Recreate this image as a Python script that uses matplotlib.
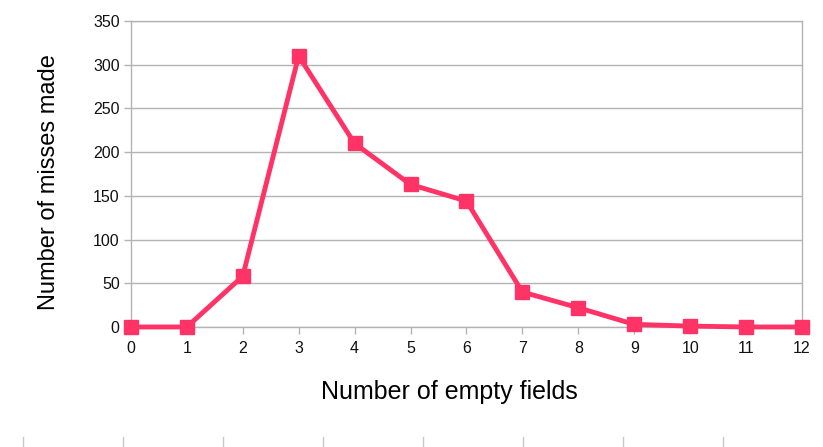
import matplotlib
matplotlib.use('Agg')
import matplotlib.pyplot as plt
from matplotlib.lines import Line2D

plt.rcParams['font.family'] = ['Liberation Sans', 'DejaVu Sans']

# data
empty_fields = [0, 1, 2, 3, 4, 5, 6, 7, 8, 9, 10, 11, 12]
misses = [0, 0, 58, 310, 210, 163, 144, 40, 22, 3, 1, 0, 0]
yticks = [0, 50, 100, 150, 200, 250, 300, 350]

fig = plt.figure(figsize=(8.23, 4.47), dpi=100)
ax = fig.add_axes([0.159, 0.2685, 0.8155, 0.6845])

grey = '#b3b3b3'
ax.plot(empty_fields, misses, color='#ff3366', lw=3.5, marker='s', ms=9.5,
        clip_on=False, zorder=3)

ax.set_xlim(0, 12)
ax.set_ylim(0, 350)
ax.set_xticks(empty_fields)
ax.set_yticks(yticks)
ax.yaxis.grid(True, color=grey, lw=1)
ax.set_axisbelow(True)
for s in ['left', 'right', 'bottom', 'top']:
    ax.spines[s].set_color(grey)
    ax.spines[s].set_linewidth(1)
ax.tick_params(axis='both', color=grey, length=5, width=1, labelsize=11.5,
               labelcolor='#111111')
ax.tick_params(axis='x', pad=5)
ax.tick_params(axis='y', pad=3)

ax.set_xlabel('Number of empty fields', fontsize=18)
ax.set_ylabel('Number of misses made', fontsize=17)
ax.xaxis.set_label_coords(0.474, -0.172)
ax.yaxis.set_label_coords(-0.106, 0.475)

# ruler marks at the bottom of the sheet
for px in range(23, 823, 100):
    fig.add_artist(Line2D([px / 823, px / 823], [0, 10 / 447],
                          color='#c8c8c8', lw=1))

fig.savefig('out.png', dpi=100)
